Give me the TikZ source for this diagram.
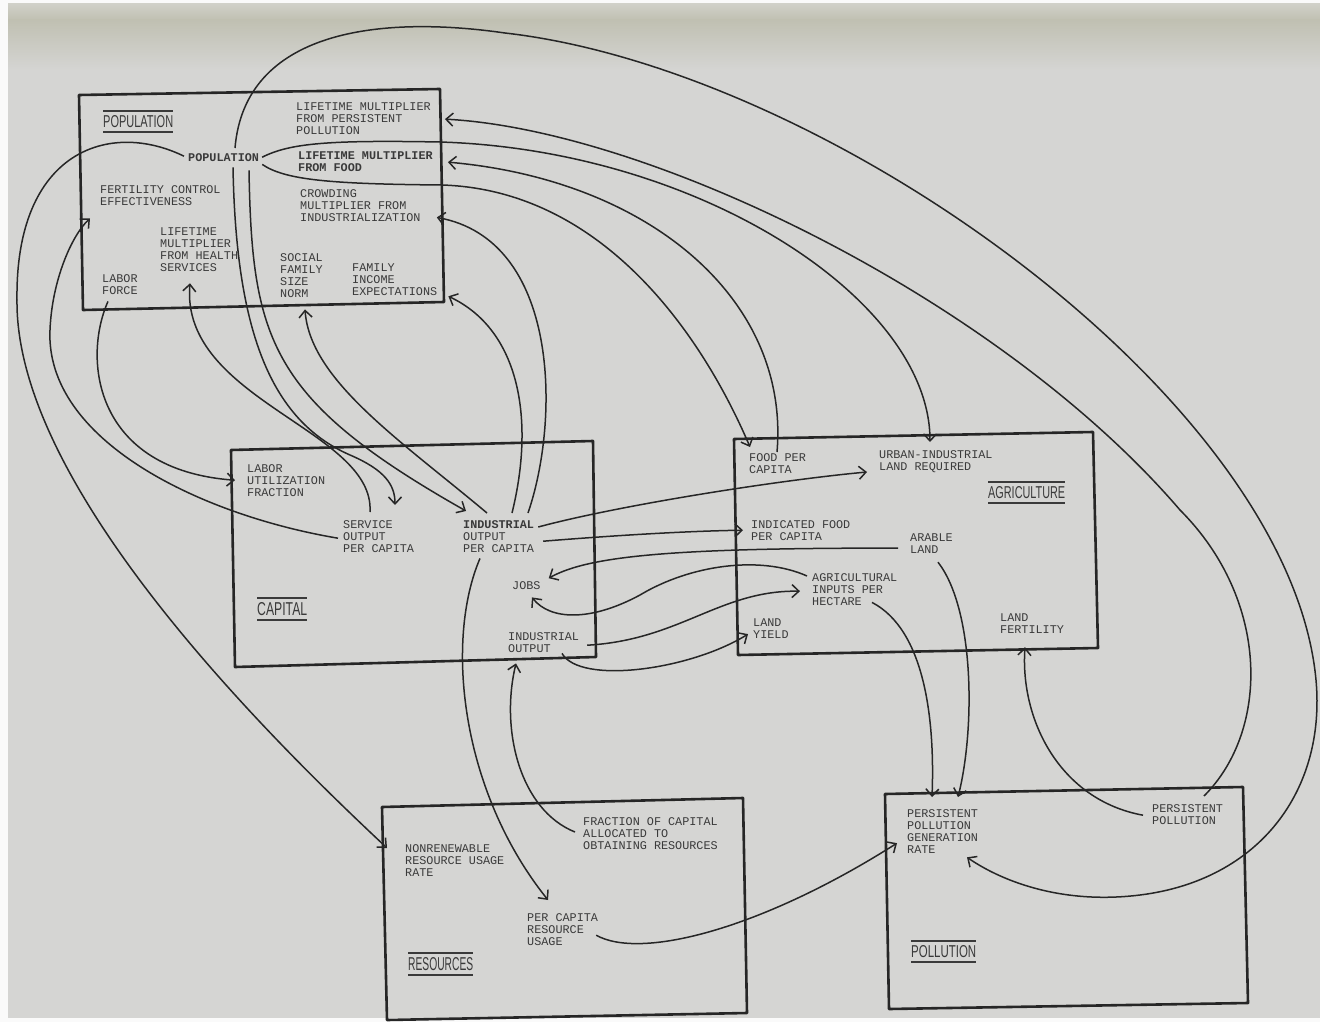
\documentclass[tikz,border=0pt]{standalone}
\usepackage{fontspec}
\usepackage{graphicx}
\usetikzlibrary{arrows.meta,calc}
\newfontfamily\monof{Liberation Mono}
\newfontfamily\titlef{Liberation Sans}
\definecolor{bgc}{RGB}{213,213,211}
\definecolor{topc}{RGB}{192,192,178}
\definecolor{toplight}{RGB}{208,208,200}
\definecolor{inkc}{RGB}{38,38,38}
\definecolor{txtc}{RGB}{58,58,58}
\newcommand\sectiontitle[3]{\vbox{\hrule width #1 height 1.8pt\vskip 3.4pt\hbox{\resizebox{#1}{#2}{\titlef #3}}\vskip 3.4pt\hrule width #1 height 1.8pt}}
\begin{document}
\begin{tikzpicture}[x=1pt,y=-1pt,
  lbl/.style={font=\monof\fontsize{11.8}{12}\selectfont, align=left, anchor=north west, inner sep=0pt, text=txtc},
  boldlbl/.style={lbl, font=\monof\bfseries\fontsize{11.8}{12}\selectfont},
  ttl/.style={anchor=north west, inner sep=0pt, text=txtc},
  boxline/.style={draw=inkc, line width=2.6pt, line join=round},
  link/.style={draw=inkc, line width=1.5pt, -{Straight Barb[length=7pt,width=13pt,line width=1.5pt]}}
]
% background
\useasboundingbox (0,0) rectangle (1320,1022);
\fill[white!96!gray] (0,0) rectangle (1320,1022);
\fill[bgc] (8,4) rectangle (1320,1018);
\shade[top color=toplight, bottom color=topc] (8,4) rectangle (1320,20);
\shade[top color=topc, bottom color=bgc] (8,20) rectangle (1320,70);

% boxes
\draw[boxline] (79,95) -- (440,89) -- (444,302) -- (83,310) -- cycle;
\draw[boxline] (231,450) -- (593,441) -- (596,657) -- (235,667) -- cycle;
\draw[boxline] (734,439) -- (1093,432) -- (1098,648) -- (738,655) -- cycle;
\draw[boxline] (382,807) -- (743,798) -- (747,1013) -- (387,1020) -- cycle;
\draw[boxline] (885,794) -- (1243,787) -- (1248,1003) -- (889,1009) -- cycle;

% titles (rule above and below)
\node[ttl] (popT) at (103,110) {\sectiontitle{70pt}{12pt}{POPULATION}};
\node[ttl] (capT) at (257,597) {\sectiontitle{50pt}{13pt}{CAPITAL}};
\node[ttl] (agrT) at (988,481) {\sectiontitle{77pt}{12pt}{AGRICULTURE}};
\node[ttl] (resT) at (408,952) {\sectiontitle{65pt}{13pt}{RESOURCES}};
\node[ttl] (polT) at (911,940) {\sectiontitle{65pt}{12pt}{POLLUTION}};

% population sector
\node[lbl] (lmpp) at (296,103) {LIFETIME MULTIPLIER\\FROM PERSISTENT\\POLLUTION};
\node[boldlbl] (pop) at (188,153) {POPULATION};
\node[boldlbl] (lmf) at (298,152) {LIFETIME MULTIPLIER\\FROM FOOD};
\node[lbl] (fce) at (100,185) {FERTILITY CONTROL\\EFFECTIVENESS};
\node[lbl] (cmi) at (300,189) {CROWDING\\MULTIPLIER FROM\\INDUSTRIALIZATION};
\node[lbl] (lmhs) at (160,228) {LIFETIME\\MULTIPLIER\\FROM HEALTH\\SERVICES};
\node[lbl] (lf) at (102,274) {LABOR\\FORCE};
\node[lbl] (sfsn) at (280,253) {SOCIAL\\FAMILY\\SIZE\\NORM};
\node[lbl] (fie) at (352,264) {FAMILY\\INCOME\\EXPECTATIONS};

% capital sector
\node[lbl] (luf) at (247,464) {LABOR\\UTILIZATION\\FRACTION};
\node[lbl] (sopc) at (343,520) {SERVICE\\OUTPUT\\PER CAPITA};
\node[lbl] (iopc) at (463,520) {\textbf{INDUSTRIAL}\\OUTPUT\\PER CAPITA};
\node[lbl] (jobs) at (512,581) {JOBS};
\node[lbl] (io) at (508,632) {INDUSTRIAL\\OUTPUT};

% agriculture sector
\node[lbl] (fpc) at (749,453) {FOOD PER\\CAPITA};
\node[lbl] (uilr) at (879,450) {URBAN-INDUSTRIAL\\LAND REQUIRED};
\node[lbl] (ifpc) at (751,520) {INDICATED FOOD\\PER CAPITA};
\node[lbl] (al) at (910,534) {ARABLE\\LAND};
\node[lbl] (aiph) at (812,573) {AGRICULTURAL\\INPUTS PER\\HECTARE};
\node[lbl] (ly) at (753,619) {LAND\\YIELD};
\node[lbl] (lfert) at (1000,614) {LAND\\FERTILITY};

% resources sector
\node[lbl] (nrur) at (405,844) {NONRENEWABLE\\RESOURCE USAGE\\RATE};
\node[lbl] (fcaor) at (583,817) {FRACTION OF CAPITAL\\ALLOCATED TO\\OBTAINING RESOURCES};
\node[lbl] (pcru) at (527,913) {PER CAPITA\\RESOURCE\\USAGE};

% pollution sector
\node[lbl] (ppgr) at (907,809) {PERSISTENT\\POLLUTION\\GENERATION\\RATE};
\node[lbl] (ppol) at (1152,804) {PERSISTENT\\POLLUTION};

% connectors
\draw[link] ($(pop.west)+(-4,-1)$) .. controls (110,120) and (15,150) .. (17,300) .. controls (15,480) and (250,720) .. ($(nrur.north west)+(-18,4)$);
\draw[link] ($(sopc.west)+(-5,2)$) .. controls (200,515) and (45,440) .. (50,330) .. controls (52,280) and (72,235) .. ($(fce.south west)+(-10,13)$);
\draw[link] ($(lf.south west)+(6,7)$) .. controls (82,360) and (95,470) .. ($(luf.west)+(-12,0)$);
\draw[link] ($(sopc.north west)+(27,-8)$) .. controls (375,430) and (180,400) .. ($(lmhs.south west)+(30,11)$);
\draw[link] ($(pop.south west)+(45,6)$) .. controls (236,330) and (270,420) .. (350,455) .. controls (385,470) and (395,485) .. ($(sopc.north west)+(52,-15)$);
\draw[link] ($(pop.south west)+(61,9)$) .. controls (252,340) and (270,400) .. ($(iopc.north west)+(3,-9)$);
\draw[link] ($(iopc.north west)+(24,-7)$) .. controls (400,440) and (310,380) .. ($(sfsn.south west)+(25,12)$);
\draw[link] ($(iopc.north west)+(49,-7)$) .. controls (535,420) and (520,330) .. ($(fie.south east)+(11,0)$);
\draw[link] ($(iopc.north west)+(65,-7)$) .. controls (560,420) and (560,240) .. ($(cmi.south east)+(16,-4)$);
\draw[link] ($(pop.north west)+(47,-5)$) .. controls (245,30) and (380,15) .. (505,33) .. controls (830,70) and (1290,400) .. (1316,680) .. controls (1326,790) and (1260,880) .. (1140,895) .. controls (1060,905) and (1000,880) .. ($(ppgr.south west)+(60,4)$);
\draw[link] ($(ppol.north west)+(52,-8)$) .. controls (1270,730) and (1270,600) .. (1180,510) .. controls (1000,300) and (650,130) .. ($(lmpp.east)+(14,0)$);
\draw[link] ($(pop.east)+(3,0)$) .. controls (290,143) and (330,140) .. (440,142) .. controls (700,150) and (930,300) .. ($(uilr.north west)+(51,-8)$);
\draw[link] ($(fpc.north west)+(28,-1)$) .. controls (790,300) and (650,180) .. ($(lmf.east)+(15,0)$);
\draw[link] ($(pop.south east)+(3,3)$) .. controls (285,180) and (330,184) .. (442,185) .. controls (600,190) and (700,330) .. ($(fpc.north west)+(1,-6)$);
\draw[link] ($(iopc.north east)+(4,7)$) .. controls (620,505) and (780,480) .. ($(uilr.north west)+(-12,22)$);
\draw[link] ($(iopc.east)+(9,5)$) .. controls (620,535) and (690,531) .. ($(ifpc.west)+(-8,0)$);
\draw[link] ($(al.west)+(-12,4)$) .. controls (680,548) and (590,555) .. ($(jobs.east)+(8,-7)$);
\draw[link] ($(aiph.north west)+(-5,3)$) .. controls (760,555) and (690,565) .. (640,595) .. controls (590,622) and (550,620) .. ($(jobs.south west)+(20,8)$);
\draw[link] ($(io.east)+(8,3)$) .. controls (680,640) and (720,590) .. ($(aiph.west)+(-12,2)$);
\draw[link] ($(io.south west)+(54,1)$) .. controls (580,685) and (690,670) .. ($(ly.west)+(-5,5)$);
\draw[link] ($(iopc.south west)+(17,6)$) .. controls (445,640) and (460,790) .. ($(pcru.north west)+(21,-13)$);
\draw[link] ($(fcaor.north west)+(-8,15)$) .. controls (520,810) and (500,730) .. ($(io.south west)+(8,11)$);
\draw[link] ($(pcru.east)+(-2,6)$) .. controls (640,960) and (760,930) .. ($(ppgr.west)+(-10,12)$);
\draw[link] ($(aiph.south west)+(60,-3)$) .. controls (925,630) and (935,720) .. ($(ppgr.north west)+(25,-12)$);
\draw[link] ($(al.south west)+(28,8)$) .. controls (975,610) and (975,730) .. ($(ppgr.north west)+(51,-12)$);
\draw[link] ($(ppol.west)+(-9,1)$) .. controls (1060,800) and (1020,720) .. ($(lfert.south west)+(25,13)$);
\end{tikzpicture}
\end{document}
